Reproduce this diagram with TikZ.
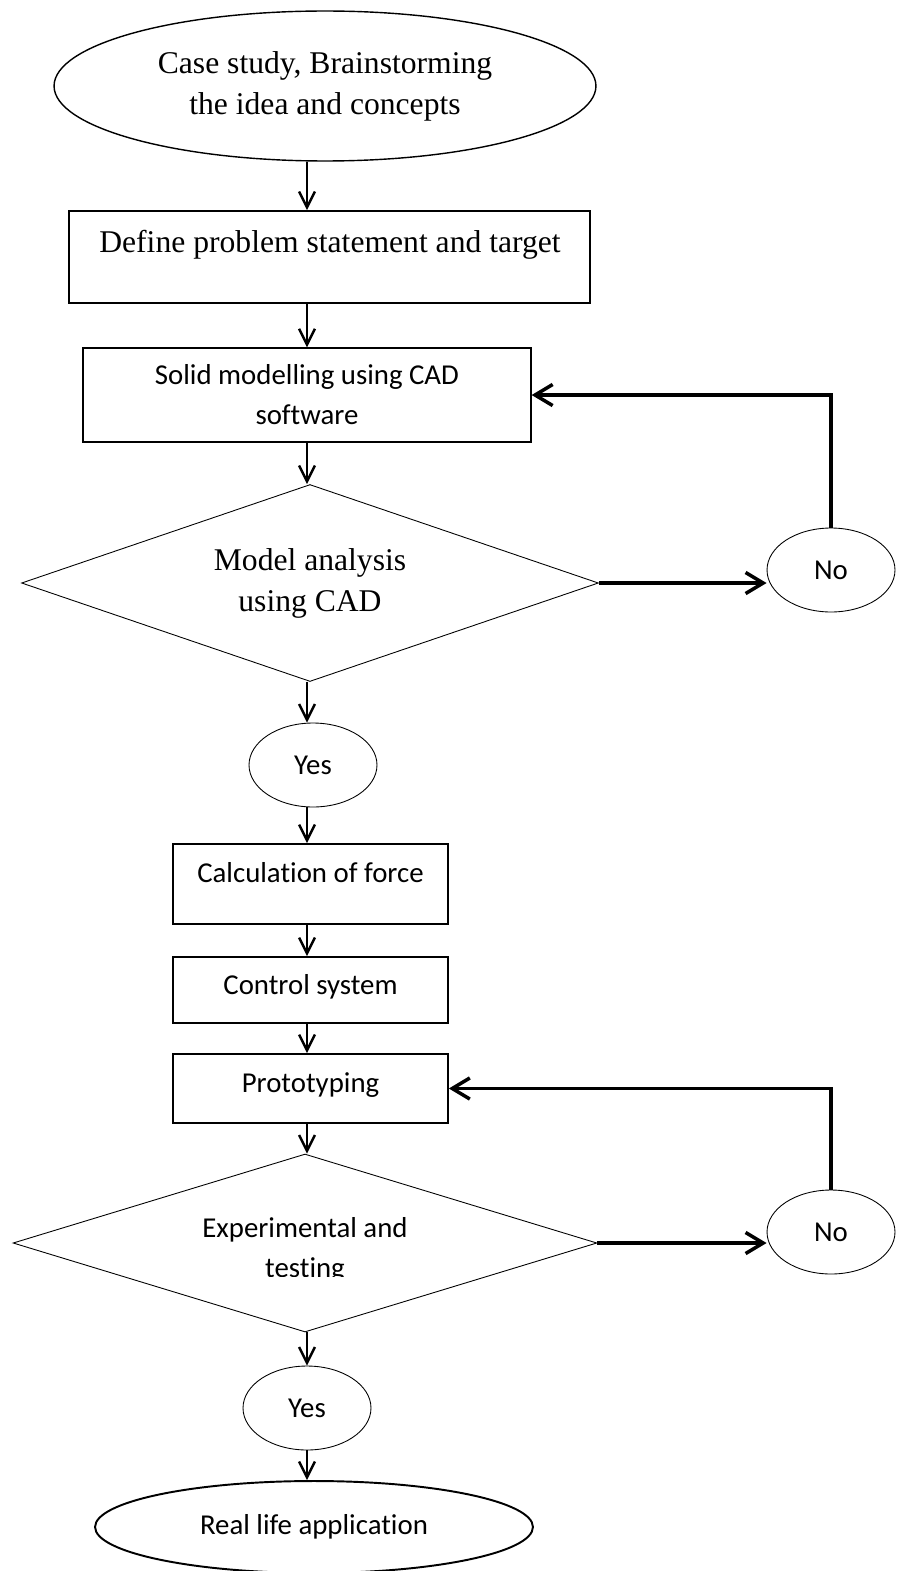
\documentclass[tikz,border=0pt]{standalone}
\usepackage{fontspec}
\setmainfont{Liberation Serif}
\newfontfamily\calibri[Ligatures=NoCommon]{Carlito}
\usetikzlibrary{arrows.meta,shapes.geometric}

\begin{document}
\begin{tikzpicture}[x=0.02cm,y=-0.02cm,
  serif/.style={font=\fontsize{18}{23.3}\selectfont,align=center},
  sans/.style={font=\calibri\fontsize{16.4}{22.8}\selectfont,align=center},
  stepbox/.style={draw,line width=1pt,inner sep=0pt},
  decision/.style={draw,diamond,aspect=3,line width=0.5pt,inner sep=0pt},
  answer/.style={draw,ellipse,line width=0.5pt,minimum width=2.56cm,minimum height=1.68cm,inner sep=0pt,sans},
  flow/.style={-{Straight Barb[length=9pt,width=9pt]},line width=1.4pt},
  retflow/.style={-{Straight Barb[length=10pt,width=12pt]},line width=2pt}]
\useasboundingbox (0,0) rectangle (900,1571);
\coordinate (axis) at (307,0);
% main column
\node[draw,ellipse,line width=0.8pt,minimum width=10.84cm,minimum height=3cm,serif] (idea) at (325,86) {Case study, Brainstorming\\the idea and concepts};
\node[stepbox,minimum width=10.42cm,minimum height=1.84cm] (define) at (329.5,257) {};
\node[serif] (defineTxt) at (330,245) {Define problem statement and target};
\node[stepbox,line width=0.8pt,minimum width=8.96cm,minimum height=1.88cm,sans] (solid) at (307,395) {Solid modelling using CAD\\software};
\node[decision,minimum width=11.54cm,minimum height=3.94cm,serif] (model) at (310,583) {Model analysis\\using CAD};
\node[answer] (no1) at (831,570) {No};
\node[answer] (yes1) at (313,765) {Yes};
\node[stepbox,minimum width=5.5cm,minimum height=1.6cm] (calc) at (310.5,884) {};
\node[sans] (calcTxt) at (310.5,873) {Calculation of force};
\node[stepbox,minimum width=5.5cm,minimum height=1.32cm] (control) at (310.5,990) {};
\node[sans] (controlTxt) at (310.5,987) {Control system};
\node[stepbox,minimum width=5.5cm,minimum height=1.38cm] (proto) at (310.5,1088.5) {};
\node[sans] (protoTxt) at (310.5,1085) {Prototyping};
\node[decision,minimum width=11.68cm,minimum height=3.56cm] (test) at (305,1243) {};
\begin{scope}
\clip (0,1150) rectangle (900,1276);
\node[sans] (testTxt) at (305,1250) {Experimental and\\testing};
\end{scope}
\node[answer] (no2) at (831,1232) {No};
\node[answer] (yes2) at (307,1408) {Yes};
\node[draw,ellipse,line width=1.1pt,minimum width=8.76cm,minimum height=1.84cm,sans] (real) at (314,1527) {Real life application};
% arrows down
\draw[flow] (idea.south -| axis) -- (define.north -| axis);
\draw[flow] (define.south -| axis) -- (solid.north -| axis);
\draw[flow] (solid.south -| axis) -- (model.north -| axis);
\draw[flow] (model.south -| axis) -- (yes1.north -| axis);
\draw[flow] (yes1.south -| axis) -- (calc.north -| axis);
\draw[flow] (calc.south -| axis) -- (control.north -| axis);
\draw[flow] (control.south -| axis) -- (proto.north -| axis);
\draw[flow] (proto.south -| axis) -- (test.north -| axis);
\draw[flow] (test.south -| axis) -- (yes2.north -| axis);
\draw[flow] (yes2.south -| axis) -- (real.north -| axis);
% no branches
\draw[retflow] (model.east) -- (model.east -| no1.west);
\draw[retflow] (no1.north) |- (solid.east);
\draw[retflow] (test.east) -- (test.east -| no2.west);
\draw[retflow] (no2.north) |- (proto.east);
\end{tikzpicture}
\end{document}
